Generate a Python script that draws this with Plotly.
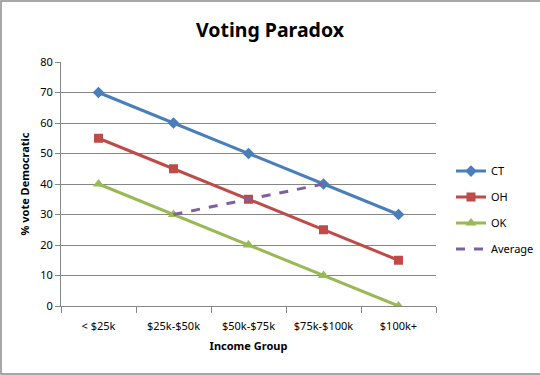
import plotly.graph_objects as go

categories = ["< $25k", "$25k-$50k", "$50k-$75k", "$75k-$100k", "$100k+"]
ct = [70, 60, 50, 40, 30]
oh = [55, 45, 35, 25, 15]
ok = [40, 30, 20, 10, 0]
average = [None, 30, 35, 40, None]

FONT = "Noto Sans"

fig = go.Figure()
fig.add_trace(go.Scatter(x=categories, y=ct, name="CT", mode="lines+markers",
                         line=dict(color="#4A7EBB", width=3),
                         marker=dict(symbol="diamond", size=9, color="#4A7EBB"),
                         legendgroup="a"))
fig.add_trace(go.Scatter(x=categories, y=oh, name="OH", mode="lines+markers",
                         line=dict(color="#BE4B48", width=3),
                         marker=dict(symbol="square", size=9, color="#BE4B48"),
                         legendgroup="b"))
fig.add_trace(go.Scatter(x=categories, y=ok, name="OK", mode="lines+markers",
                         line=dict(color="#98B954", width=3),
                         marker=dict(symbol="triangle-up", size=10, color="#98B954"),
                         legendgroup="c"))
fig.add_trace(go.Scatter(x=categories, y=average, name="Average", mode="lines",
                         line=dict(color="#7D60A0", width=3, dash="dash"),
                         connectgaps=False, legendgroup="d"))

fig.update_layout(
    width=540, height=375,
    margin=dict(l=61, r=104, t=62, b=69, autoexpand=False),
    paper_bgcolor="white", plot_bgcolor="white",
    font=dict(family=FONT, size=11, color="black"),
    title=dict(text="Voting Paradox", x=0.5, xref="container", xanchor="center",
               y=0.92, yanchor="middle",
               font=dict(family=FONT, size=19.5, color="black", weight="bold")),
    legend=dict(x=1.04, y=0.393, xanchor="left", yanchor="middle",
                font=dict(family=FONT, size=11), tracegroupgap=7,
                bgcolor="rgba(0,0,0,0)"),
    showlegend=True,
)
fig.update_xaxes(
    type="category", range=[-0.5, 4.5], tickson="boundaries", ticks="outside", ticklen=6,
    tickcolor="#868686", showline=True, linecolor="#868686", linewidth=1,
    showgrid=False, ticklabelstandoff=10,
    title=dict(text="Income Group", font=dict(family=FONT, size=11, weight="bold"), standoff=10),
    tickfont=dict(family=FONT, size=11),
)
fig.update_yaxes(
    range=[0, 80], dtick=10, ticks="outside", ticklen=5, tickcolor="#868686",
    showline=True, linecolor="#868686", linewidth=1,
    showgrid=True, gridcolor="#868686", gridwidth=1, zeroline=False,
    title=dict(text="% vote Democratic", font=dict(family=FONT, size=11, weight="bold"), standoff=8),
    tickfont=dict(family=FONT, size=11),
)
fig.add_shape(type="rect", xref="paper", yref="paper",
              x0=-0.16, x1=1.3, y0=-0.279, y1=1.25,
              line=dict(color="#8a8a8a", width=1.5), fillcolor="rgba(0,0,0,0)",
              layer="below")

fig.write_html("out.html", config={"displayModeBar": False},
               post_script="document.body.style.margin='0';document.body.style.overflow='hidden';")
